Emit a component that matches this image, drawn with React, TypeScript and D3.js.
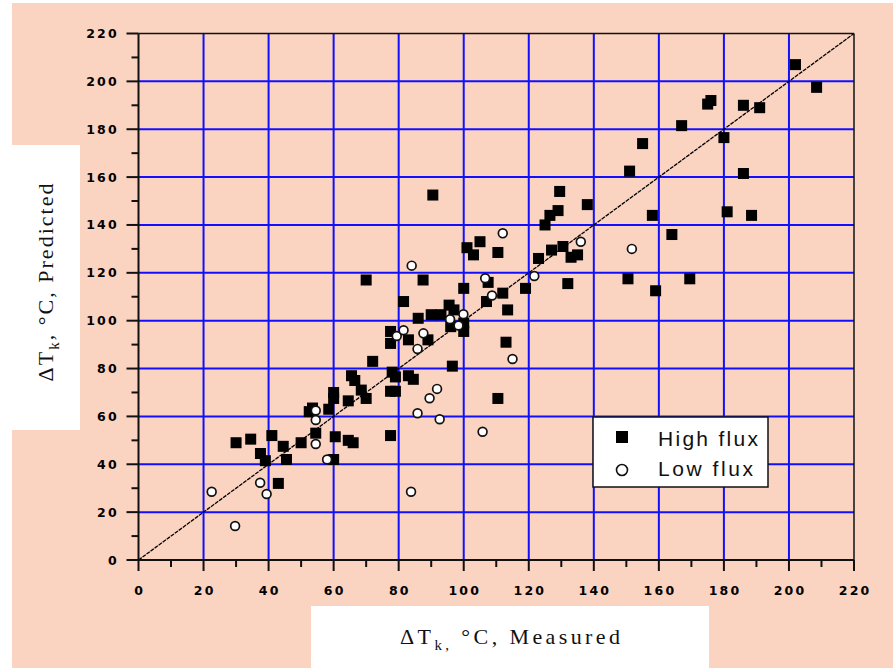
import React from 'react';
import * as d3 from 'd3';

// measured vs predicted, high flux runs
const highFlux: [number, number][] = [
  [30, 49], [34.5, 50.5], [41, 52], [37.5, 44.5], [39, 41.5], [44.5, 47.5], [45.5, 42], [43, 32],
  [50, 49], [54.5, 53], [52.5, 62], [53.5, 63.5], [58.5, 63], [60.5, 51.5], [60, 42], [64.5, 50],
  [66, 49], [60, 70], [60, 67.5], [64.5, 66.5], [65.5, 77], [66.5, 75], [68.5, 71], [70, 67.5],
  [72, 83], [70, 117], [77.5, 52], [77.5, 70.5], [79, 70.5], [78, 78.5], [79, 76.5], [83, 77],
  [84.5, 75.5], [77.5, 95.5], [77.5, 90.5], [83, 92], [89, 92], [81.5, 108], [86, 101], [87.5, 117],
  [90.5, 152.5], [90, 102.5], [93, 102.5], [95.5, 106.5], [97, 104.5], [96, 97.5], [100, 99],
  [100, 95.5], [100, 113.5], [96.5, 81], [101, 130.5], [103, 127.5], [105, 133], [107.5, 116],
  [107, 108], [110.5, 128.5], [112, 111.5], [113.5, 104.5], [113, 91], [110.5, 67.5], [119, 113.5],
  [123, 126], [125, 140], [126.5, 144], [127, 129.5], [129, 146], [129.5, 154], [130.5, 131],
  [133, 126.5], [135, 127.5], [132, 115.5], [138, 148.5], [150.5, 117.5], [151, 162.5], [155, 174],
  [158, 144], [159, 112.5], [164, 136], [167, 181.5], [169.5, 117.5], [175, 190.5], [176, 192],
  [180, 176.5], [181, 145.5], [186, 190], [186, 161.5], [188.5, 144], [191, 189], [202, 207],
  [208.5, 197.5],
];

// measured vs predicted, low flux runs
const lowFlux: [number, number][] = [
  [22.5, 28.5], [29.7, 14.2], [37.4, 32.3], [39.4, 27.6], [54.5, 62.5], [54.5, 58.5], [54.5, 48.5],
  [58, 42], [79.4, 93.6], [81.5, 96], [85.8, 88.2], [87.6, 94.7], [84, 123], [83.8, 28.5],
  [85.8, 61.3], [89.5, 67.6], [91.8, 71.5], [92.6, 58.8], [95.8, 100.6], [98.4, 98], [99.9, 102.7],
  [105.8, 53.6], [106.6, 117.7], [108.7, 110.5], [112, 136.5], [115, 84], [121.7, 118.7],
  [136, 133], [151.7, 130],
];

const majorTicks = [0, 20, 40, 60, 80, 100, 120, 140, 160, 180, 200, 220];
const minorTicks = [10, 30, 50, 70, 90, 110, 130, 150, 170, 190, 210];
const legendLabels = ['High flux', 'Low flux'];

const W = 893;
const H = 668;
const BG = '#fbd3c1';
const GRID = '#1010ff';

const App = () => {
  const xScale = d3.scaleLinear().domain([0, 220]).range([138.5, 854]);
  const yScale = d3.scaleLinear().domain([0, 220]).range([560, 33.5]);
  const [x0, x1] = xScale.range();
  const [y0, y1] = yScale.range();

  const diag = d3
    .line<number>()
    .x((d) => xScale(d))
    .y((d) => yScale(d))([0, 220]);

  const tickFont = {
    fontFamily: 'DejaVu Sans',
    fontWeight: 700,
    fontSize: 12.5,
    letterSpacing: 2.2,
  };
  const inner = majorTicks.filter((t) => t > 0 && t < 220);

  return (
    <svg
      width={W}
      height={H}
      style={{ position: 'absolute', left: 0, top: 0, display: 'block' }}
    >
      <rect x={0} y={0} width={W} height={H} fill="#fff" />
      <rect x={12} y={3} width={W - 12} height={H - 3} fill={BG} />
      {/* white boxes behind the axis titles */}
      <rect x={12} y={145} width={68} height={285} fill="#fff" />
      <rect x={311} y={606} width={398} height={62} fill="#fff" />

      {/* blue grid */}
      {inner.map((t) => (
        <line key={'gx' + t} x1={xScale(t)} x2={xScale(t)} y1={y0} y2={y1} stroke={GRID} strokeWidth={2} />
      ))}
      {inner.map((t) => (
        <line key={'gy' + t} x1={x0} x2={x1} y1={yScale(t)} y2={yScale(t)} stroke={GRID} strokeWidth={2} />
      ))}

      {/* 1:1 line */}
      <path d={diag || ''} fill="none" stroke="#000" strokeWidth={1.3} strokeDasharray="4 1" />

      {/* frame */}
      <line x1={x0} x2={x1} y1={y1} y2={y1} stroke="#111" strokeWidth={1.5} />
      <line x1={x1} x2={x1} y1={y1} y2={y0} stroke="#111" strokeWidth={1.5} />
      <line x1={x0} x2={x1} y1={y0} y2={y0} stroke="#111" strokeWidth={2} />
      <line x1={x0} x2={x0} y1={y1} y2={y0} stroke="#111" strokeWidth={2} />

      {/* ticks */}
      {majorTicks.map((t) => (
        <g key={'mt' + t}>
          <line x1={xScale(t)} x2={xScale(t)} y1={y0} y2={y0 + 11} stroke="#111" strokeWidth={2} />
          <line x1={x0} x2={x0 - 12} y1={yScale(t)} y2={yScale(t)} stroke="#111" strokeWidth={2} />
          <text x={xScale(t) + 1.1} y={595} textAnchor="middle" fill="#000" {...tickFont}>
            {t}
          </text>
          <text x={116.7 + 2.2} y={yScale(t) + 4.5} textAnchor="end" fill="#000" {...tickFont}>
            {t}
          </text>
        </g>
      ))}
      {minorTicks.map((t) => (
        <g key={'nt' + t}>
          <line x1={xScale(t)} x2={xScale(t)} y1={y0} y2={y0 + 7} stroke="#111" strokeWidth={2} />
          <line x1={x0} x2={x0 - 7} y1={yScale(t)} y2={yScale(t)} stroke="#111" strokeWidth={2} />
        </g>
      ))}

      {/* points */}
      {highFlux.map(([mx, py], i) => (
        <rect key={'h' + i} x={xScale(mx) - 5.5} y={yScale(py) - 5.5} width={11} height={11} fill="#000" />
      ))}
      {lowFlux.map(([mx, py], i) => (
        <circle key={'l' + i} cx={xScale(mx)} cy={yScale(py)} r={4.4} fill="#fff" stroke="#111" strokeWidth={1.7} />
      ))}

      {/* legend */}
      <rect x={593} y={417} width={175} height={70} fill="#fff" stroke="#111" strokeWidth={1.5} />
      <rect x={616} y={431} width={12} height={12} fill="#000" />
      <circle cx={622} cy={470} r={5.5} fill="#fff" stroke="#111" strokeWidth={1.6} />
      {legendLabels.map((s, i) => (
        <text
          key={s}
          x={658}
          y={446 + i * 30}
          fontFamily="Liberation Sans"
          fontSize={21}
          fill="#111"
          textLength={i === 0 ? 100 : 95}
          lengthAdjust="spacing"
        >
          {s}
        </text>
      ))}

      {/* axis titles */}
      <text
        x={400}
        y={644}
        fontFamily="Liberation Serif"
        fontSize={22}
        fill="#111"
        textLength={220}
        lengthAdjust="spacing"
      >
        ΔT
        <tspan fontSize={15} dy={6}>k,</tspan>
        <tspan dy={-6}> °C,  Measured</tspan>
      </text>
      <text
        transform="translate(53,282.5) rotate(-90)"
        x={-99}
        y={0}
        fontFamily="Liberation Serif"
        fontSize={22}
        fill="#111"
        textLength={198}
        lengthAdjust="spacing"
      >
        ΔT
        <tspan fontSize={15} dy={6}>k</tspan>
        <tspan dy={-6}>, °C, Predicted</tspan>
      </text>
    </svg>
  );
};

export default App;
